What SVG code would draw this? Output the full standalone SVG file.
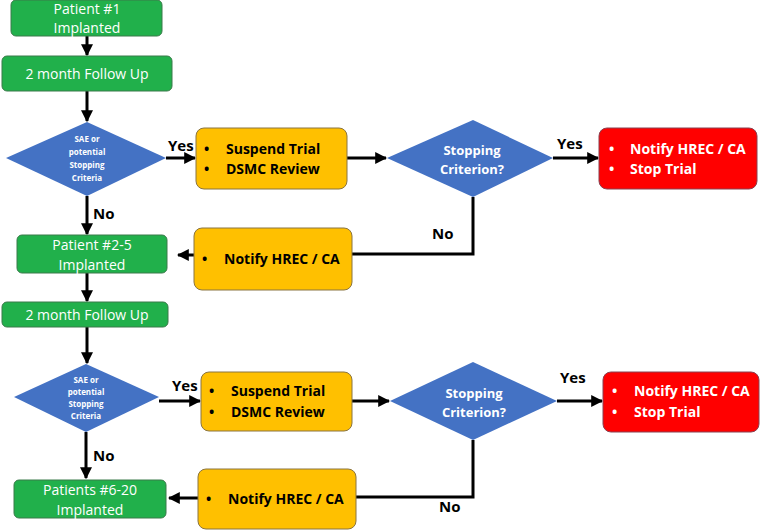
<svg xmlns="http://www.w3.org/2000/svg" width="764" height="532" viewBox="0 0 764 532">
<defs>
<marker id="ah" viewBox="0 0 10 10" refX="9" refY="5" markerWidth="4" markerHeight="4" orient="auto"><path d="M0,0L10,5L0,10z" fill="#000"/></marker>
<style>
.g{fill:#21b04b;stroke:#3a7a4a;stroke-width:1}
.y{fill:#ffc000;stroke:#8a7440;stroke-width:1}
.r{fill:#ff0000;stroke:#8a4050;stroke-width:1}
.d{fill:#4472c4}
text{font-family:"Open Sans","Liberation Sans",sans-serif}
.gt{fill:#fff;font-size:14px;text-anchor:middle}
.bt{fill:#000;font-size:14px;font-weight:bold}
.wt{fill:#fff;font-size:14px;font-weight:bold}
.dt{fill:#fff;font-size:8px;font-weight:bold;text-anchor:middle}
.st{fill:#fff;font-size:13px;font-weight:bold;text-anchor:middle}
.lb{fill:#000;font-size:15px;font-weight:bold}
.c{stroke:#000;stroke-width:3;fill:none}
</style>
</defs>
<g id="connectors">
<path class="c" d="M87,36V55" marker-end="url(#ah)"/>
<path class="c" d="M87,91V121" marker-end="url(#ah)"/>
<path class="c" d="M166,158H195" marker-end="url(#ah)"/>
<path class="c" d="M347,158H386" marker-end="url(#ah)"/>
<path class="c" d="M553,158H598" marker-end="url(#ah)"/>
<path class="c" d="M87,196V234" marker-end="url(#ah)"/>
<path class="c" d="M473,197V254H352"/>
<path class="c" d="M194,255H178" marker-end="url(#ah)"/>
<path class="c" d="M87,273V301" marker-end="url(#ah)"/>
<path class="c" d="M87,327V363" marker-end="url(#ah)"/>
<path class="c" d="M159,401H200" marker-end="url(#ah)"/>
<path class="c" d="M352,401H389" marker-end="url(#ah)"/>
<path class="c" d="M557,401H602" marker-end="url(#ah)"/>
<path class="c" d="M86,432V478" marker-end="url(#ah)"/>
<path class="c" d="M473,440V497H356"/>
<path class="c" d="M198,498H169" marker-end="url(#ah)"/>
<text class="lb" x="168" y="151">Yes</text>
<text class="lb" x="557" y="149">Yes</text>
<text class="lb" x="93" y="219">No</text>
<text class="lb" x="432" y="239">No</text>
<text class="lb" x="172" y="391">Yes</text>
<text class="lb" x="560" y="383">Yes</text>
<text class="lb" x="93" y="461">No</text>
<text class="lb" x="439" y="512">No</text>
</g>
<g id="p1"><rect class="g" x="11" y="0" width="151" height="36" rx="5"/><text class="gt" x="87" y="14">Patient #1</text><text class="gt" x="87" y="33">Implanted</text></g>
<g id="f1"><rect class="g" x="2" y="56" width="170" height="35" rx="5"/><text class="gt" x="87" y="79">2 month Follow Up</text></g>
<g id="d1"><path class="d" d="M87,122L166,158L87,196L6,158z"/><text class="dt" x="87" y="142">SAE or</text><text class="dt" x="87" y="155">potential</text><text class="dt" x="87" y="168">Stopping</text><text class="dt" x="87" y="181">Criteria</text></g>
<g id="s1"><rect class="y" x="196" y="128" width="151" height="61" rx="8"/><text class="bt" x="204" y="154">•</text><text class="bt" x="226" y="154">Suspend Trial</text><text class="bt" x="204" y="174">•</text><text class="bt" x="226" y="174">DSMC Review</text></g>
<g id="d2"><path class="d" d="M473,120L553,158L473,197L387,158z"/><text class="st" x="472" y="155">Stopping</text><text class="st" x="472" y="174">Criterion?</text></g>
<g id="r1"><rect class="r" x="599" y="128" width="158" height="61" rx="8"/><text class="wt" x="609" y="154">•</text><text class="wt" x="630" y="154">Notify HREC / CA</text><text class="wt" x="609" y="174">•</text><text class="wt" x="630" y="174">Stop Trial</text></g>
<g id="n1"><rect class="y" x="194" y="228" width="158" height="62" rx="8"/><text class="bt" x="202" y="264">•</text><text class="bt" x="224" y="264">Notify HREC / CA</text></g>
<g id="p2"><rect class="g" x="17" y="235" width="150" height="38" rx="5"/><text class="gt" x="92" y="250">Patient #2-5</text><text class="gt" x="92" y="270">Implanted</text></g>
<g id="f2"><rect class="g" x="2" y="302" width="166" height="25" rx="5"/><text class="gt" x="87" y="320">2 month Follow Up</text></g>
<g id="d3"><path class="d" d="M86,364L159,397L86,432L14,397z"/><text class="dt" x="86" y="383">SAE or</text><text class="dt" x="86" y="395">potential</text><text class="dt" x="86" y="407">Stopping</text><text class="dt" x="86" y="419">Criteria</text></g>
<g id="s2"><rect class="y" x="201" y="372" width="151" height="59" rx="8"/><text class="bt" x="209" y="396">•</text><text class="bt" x="231" y="396">Suspend Trial</text><text class="bt" x="209" y="417">•</text><text class="bt" x="231" y="417">DSMC Review</text></g>
<g id="d4"><path class="d" d="M473,362L557,401L473,440L390,401z"/><text class="st" x="474" y="398">Stopping</text><text class="st" x="474" y="417">Criterion?</text></g>
<g id="r2"><rect class="r" x="603" y="372" width="156" height="60" rx="8"/><text class="wt" x="612" y="396">•</text><text class="wt" x="634" y="396">Notify HREC / CA</text><text class="wt" x="612" y="417">•</text><text class="wt" x="634" y="417">Stop Trial</text></g>
<g id="n2"><rect class="y" x="198" y="469" width="158" height="60" rx="8"/><text class="bt" x="206" y="504">•</text><text class="bt" x="228" y="504">Notify HREC / CA</text></g>
<g id="p3"><rect class="g" x="14" y="480" width="152" height="38" rx="5"/><text class="gt" x="90" y="495">Patients #6-20</text><text class="gt" x="90" y="515">Implanted</text></g>
</svg>
